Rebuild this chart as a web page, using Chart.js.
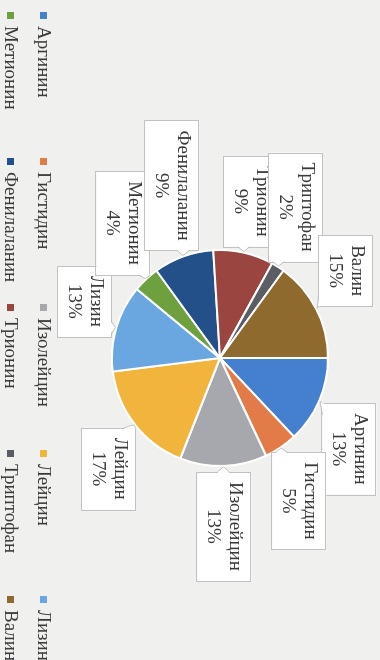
<!DOCTYPE html>
<html lang="ru">
<head>
<meta charset="utf-8">
<title>Аминокислоты</title>
<script src="https://cdn.jsdelivr.net/npm/chart.js@4.4.1/dist/chart.umd.min.js"></script>
<style>
    html, body { margin: 0; padding: 0; }
    body {
        width: 380px;
        height: 660px;
        overflow: hidden;
        position: relative;
        background: #f0f0ee;
    }
    /* the chart is laid out landscape and turned a quarter clockwise */
    .chart-wrap {
        position: absolute;
        left: -140px;
        top: 140px;
        width: 660px;
        height: 380px;
        transform: rotate(90deg);
    }
</style>
</head>
<body>
<div class="chart-wrap">
    <canvas id="aminoChart" width="660" height="380"></canvas>
</div>
<script>
const aminoAcids = ['Аргинин', 'Гистидин', 'Изолейцин', 'Лейцин', 'Лизин',
                    'Метионин', 'Фенилаланин', 'Трионин', 'Триптофан', 'Валин'];
const shares = [13, 5, 13, 17, 13, 4, 9, 9, 2, 15];
const sliceColors = ['#4580cf', '#e27b48', '#a7a8ad', '#f1b43c', '#6aa6e0',
                     '#6ea03f', '#24508a', '#9a4540', '#5a5d63', '#8f6a2e'];

const SERIF = '"Liberation Serif", "DejaVu Serif", serif';

function clamp(v, lo, hi) { return Math.max(lo, Math.min(hi, v)); }

// Callout box with a small wedge pointing back at the slice edge
function drawCallout(ctx, x, y, w, h, tip) {
    const l = x - w / 2, r = x + w / 2, t = y - h / 2, b = y + h / 2;
    let p1, p2, inset;
    const half = 6;
    if (tip.y > b) {
        const px = clamp(tip.x, l + half, r - half);
        p1 = { x: px - half, y: b }; p2 = { x: px + half, y: b }; inset = { x: 0, y: -1 };
    } else if (tip.y < t) {
        const px = clamp(tip.x, l + half, r - half);
        p1 = { x: px - half, y: t }; p2 = { x: px + half, y: t }; inset = { x: 0, y: 1 };
    } else if (tip.x > r) {
        const py = clamp(tip.y, t + half, b - half);
        p1 = { x: r, y: py - half }; p2 = { x: r, y: py + half }; inset = { x: -1, y: 0 };
    } else {
        const py = clamp(tip.y, t + half, b - half);
        p1 = { x: l, y: py - half }; p2 = { x: l, y: py + half }; inset = { x: 1, y: 0 };
    }

    ctx.fillStyle = '#ffffff';
    ctx.fillRect(l, t, w, h);
    ctx.strokeStyle = '#c2c2c2';
    ctx.lineWidth = 1;
    ctx.strokeRect(Math.round(l) + 0.5, Math.round(t) + 0.5, Math.round(w), Math.round(h));

    ctx.beginPath();
    ctx.moveTo(p1.x + inset.x, p1.y + inset.y);
    ctx.lineTo(tip.x, tip.y);
    ctx.lineTo(p2.x + inset.x, p2.y + inset.y);
    ctx.closePath();
    ctx.fill();
    ctx.beginPath();
    ctx.moveTo(p1.x, p1.y);
    ctx.lineTo(tip.x, tip.y);
    ctx.lineTo(p2.x, p2.y);
    ctx.stroke();
}

const calloutPlugin = {
    id: 'callouts',
    afterDatasetsDraw(chart) {
        const ctx = chart.ctx;
        const meta = chart.getDatasetMeta(0);
        ctx.save();
        ctx.font = '19px ' + SERIF;
        meta.data.forEach(function(arc, i) {
            const p = arc.getProps(['x', 'y', 'startAngle', 'endAngle', 'outerRadius'], true);
            const mid = (p.startAngle + p.endAngle) / 2;
            const c = Math.cos(mid), s = Math.sin(mid);
            const lines = [aminoAcids[i], shares[i] + '%'];
            const w = Math.max.apply(null, lines.map(t => ctx.measureText(t).width)) + 20;
            const h = 54;
            // anchor just outside the rim, box pushed away from it
            const ax = p.x + c * (p.outerRadius + 6);
            const ay = p.y + s * (p.outerRadius + 6);
            const bx = ax + (w / 2) * clamp(c * 2.5, -1, 1);
            const by = ay + (h / 2) * s;
            const tip = { x: p.x + c * (p.outerRadius + 1), y: p.y + s * (p.outerRadius + 1) };

            drawCallout(ctx, bx, by, w, h, tip);

            ctx.fillStyle = '#3a3a3a';
            ctx.textAlign = 'center';
            ctx.textBaseline = 'middle';
            ctx.fillText(lines[0], bx, by - 11);
            ctx.fillText(lines[1], bx, by + 11);
        });
        ctx.restore();
    }
};

// Legend in two rows of five aligned columns
const gridLegendPlugin = {
    id: 'gridLegend',
    afterDraw(chart) {
        const ctx = chart.ctx;
        const colWidth = 146, left = 12;
        const rowY = [337, 370];
        ctx.save();
        ctx.font = '19px ' + SERIF;
        ctx.textBaseline = 'middle';
        ctx.textAlign = 'left';
        aminoAcids.forEach(function(name, i) {
            const row = Math.floor(i / 5), col = i % 5;
            const x = left + col * colWidth, y = rowY[row];
            ctx.fillStyle = sliceColors[i];
            ctx.fillRect(x, y - 4, 7, 7);
            ctx.fillStyle = '#3a3a3a';
            ctx.fillText(name, x + 14, y);
        });
        ctx.restore();
    }
};

new Chart(document.getElementById('aminoChart'), {
    type: 'pie',
    data: {
        labels: aminoAcids,
        datasets: [{
            data: shares,
            backgroundColor: sliceColors,
            borderColor: '#ffffff',
            borderWidth: 2
        }]
    },
    options: {
        responsive: false,
        animation: false,
        layout: {
            padding: { left: 249, right: 193, top: 51, bottom: 111 }
        },
        plugins: {
            legend: { display: false },
            tooltip: { enabled: false }
        }
    },
    plugins: [calloutPlugin, gridLegendPlugin]
});
</script>
</body>
</html>
